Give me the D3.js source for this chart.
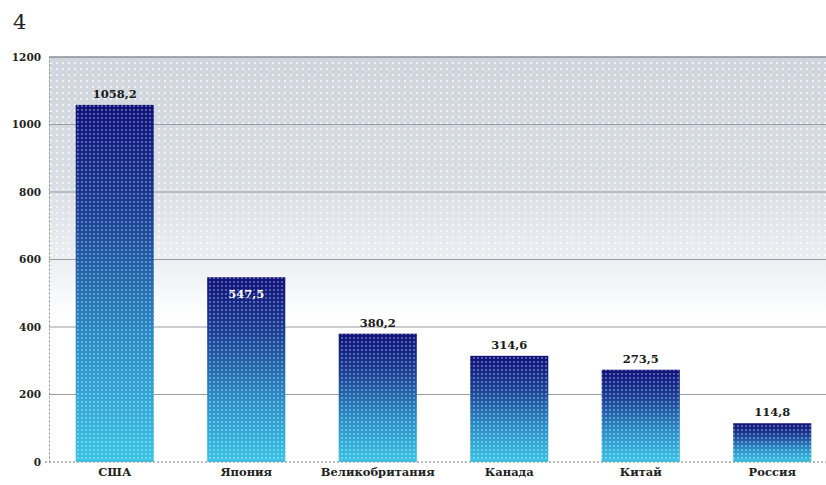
<!DOCTYPE html>
<html>
<head>
<meta charset="utf-8">
<script src="https://cdn.jsdelivr.net/npm/d3@7/dist/d3.min.js"></script>
<style>
  html, body { margin: 0; padding: 0; background: #fff; }
  svg { display: block; }
  text { font-family: "DejaVu Serif", "Liberation Serif", serif; }
</style>
</head>
<body>
<svg id="chart" width="826" height="485"></svg>
<script>
// Countries and their values
const countries = ["США", "Япония", "Великобритания", "Канада", "Китай", "Россия"];
const values = [1058.2, 547.5, 380.2, 314.6, 273.5, 114.8];
const valueLabels = ["1058,2", "547,5", "380,2", "314,6", "273,5", "114,8"];
const yTicks = [0, 200, 400, 600, 800, 1000, 1200];
const figureNumber = "4";

const svg = d3.select("#chart");
const W = 826, H = 485;
const plot = { left: 49, right: 838, top: 57, bottom: 462 };

const x = d3.scaleBand()
  .domain(countries)
  .range([plot.left, plot.right])
  .paddingInner(0.406)
  .paddingOuter(0.203);

const y = d3.scaleLinear()
  .domain([0, 1200])
  .range([plot.bottom, plot.top]);

const defs = svg.append("defs");

// background: grey at the top fading into white
const bg = defs.append("linearGradient")
  .attr("id", "bgGrad").attr("x1", 0).attr("y1", 0).attr("x2", 0).attr("y2", 1);
bg.append("stop").attr("offset", "0%").attr("stop-color", "#d0d4dc");
bg.append("stop").attr("offset", "30%").attr("stop-color", "#d9dde4");
bg.append("stop").attr("offset", "50%").attr("stop-color", "#eceef2");
bg.append("stop").attr("offset", "64%").attr("stop-color", "#ffffff");
bg.append("stop").attr("offset", "100%").attr("stop-color", "#ffffff");

// bar gradient: deep navy at the top to cyan at the base
const bar = defs.append("linearGradient")
  .attr("id", "barGrad").attr("x1", 0).attr("y1", 0).attr("x2", 0).attr("y2", 1);
bar.append("stop").attr("offset", "0%").attr("stop-color", "#10127a");
bar.append("stop").attr("offset", "30%").attr("stop-color", "#1a3f94");
bar.append("stop").attr("offset", "65%").attr("stop-color", "#2a8cc6");
bar.append("stop").attr("offset", "100%").attr("stop-color", "#3ac4e6");

// fine dot screen
const dots = defs.append("pattern")
  .attr("id", "dots").attr("width", 4).attr("height", 4)
  .attr("patternUnits", "userSpaceOnUse");
dots.append("circle").attr("cx", 2).attr("cy", 2).attr("r", 0.9)
  .attr("fill", "#ffffff").attr("opacity", 0.45);

const bgDots = defs.append("pattern")
  .attr("id", "bgDots").attr("width", 6).attr("height", 6)
  .attr("patternUnits", "userSpaceOnUse");
bgDots.append("circle").attr("cx", 3).attr("cy", 3).attr("r", 1.1)
  .attr("fill", "#ffffff").attr("opacity", 0.8);

// plot background
svg.append("rect")
  .attr("x", plot.left).attr("y", plot.top)
  .attr("width", W - plot.left).attr("height", plot.bottom - plot.top)
  .attr("fill", "url(#bgGrad)");
svg.append("rect")
  .attr("x", plot.left).attr("y", plot.top)
  .attr("width", W - plot.left).attr("height", y(600) - plot.top)
  .attr("fill", "url(#bgDots)");

// horizontal grid lines
svg.append("g")
  .selectAll("line")
  .data(yTicks.filter(d => d > 0))
  .join("line")
  .attr("x1", plot.left).attr("x2", W)
  .attr("y1", d => y(d)).attr("y2", d => y(d))
  .attr("stroke", d => d === 1200 ? "#8a8d94" : "#9a9ca2")
  .attr("stroke-width", d => d === 1200 ? 1.6 : 1.1);

// y axis
const yAxis = d3.axisLeft(y).tickValues(yTicks).tickSize(0).tickPadding(8)
  .tickFormat(d3.format("d"));
const yg = svg.append("g")
  .attr("transform", `translate(${plot.left},0)`)
  .call(yAxis);
yg.select(".domain")
  .attr("stroke", "#8c8c8c").attr("stroke-width", 1).attr("stroke-dasharray", "2,2");
yg.selectAll("text")
  .attr("font-size", 10.5).attr("font-weight", "bold").attr("fill", "#222");

// bars
const bars = svg.append("g");
bars.selectAll("rect.bar")
  .data(values)
  .join("rect")
  .attr("class", "bar")
  .attr("x", (d, i) => x(countries[i]))
  .attr("y", d => y(d))
  .attr("width", x.bandwidth())
  .attr("height", d => y(0) - y(d))
  .attr("fill", "url(#barGrad)");
bars.selectAll("rect.dot")
  .data(values)
  .join("rect")
  .attr("class", "dot")
  .attr("x", (d, i) => x(countries[i]))
  .attr("y", d => y(d))
  .attr("width", x.bandwidth())
  .attr("height", d => y(0) - y(d))
  .attr("fill", "url(#dots)");

// x axis (dotted baseline)
const xAxis = d3.axisBottom(x).tickSize(0).tickPadding(6);
const xg = svg.append("g")
  .attr("transform", `translate(0,${plot.bottom})`)
  .call(xAxis);
xg.select(".domain").remove();
svg.append("line")
  .attr("x1", plot.left - 4).attr("x2", W)
  .attr("y1", plot.bottom).attr("y2", plot.bottom)
  .attr("stroke", "#7a7a7a").attr("stroke-width", 1.2).attr("stroke-dasharray", "2,2");
xg.selectAll("text")
  .attr("font-size", 11.5).attr("font-weight", "bold").attr("fill", "#222");

// value labels; the label for Япония sits inside its bar in white
svg.append("g")
  .selectAll("text")
  .data(values)
  .join("text")
  .attr("x", (d, i) => x(countries[i]) + x.bandwidth() / 2)
  .attr("y", (d, i) => i === 1 ? y(d) + 21 : y(d) - 7)
  .attr("text-anchor", "middle")
  .attr("font-size", 11.5).attr("font-weight", "bold")
  .attr("fill", (d, i) => i === 1 ? "#ffffff" : "#1a1a1a")
  .text((d, i) => valueLabels[i]);

// figure number
svg.append("text")
  .attr("x", 13).attr("y", 29)
  .attr("font-family", "Liberation Serif, serif")
  .attr("font-size", 21).attr("fill", "#222")
  .text(figureNumber);
</script>
</body>
</html>
